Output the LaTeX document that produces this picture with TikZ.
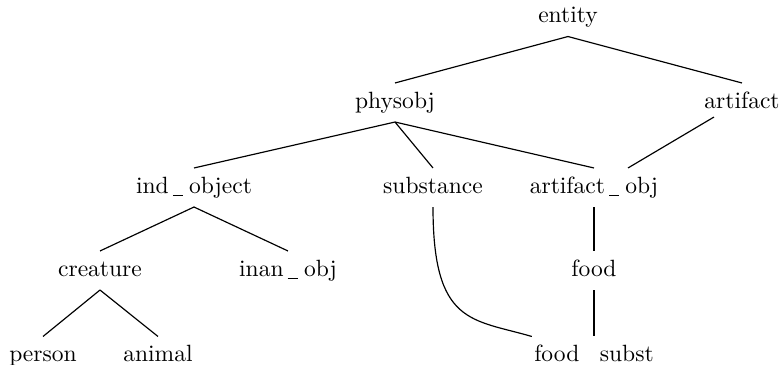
\documentclass[tikz,border=0pt]{standalone}
\usetikzlibrary{calc}
\newcommand\myus{\kern1.7pt\rule[-1.3pt]{4.3pt}{0.45pt}\kern2.7pt}
\begin{document}
\begin{tikzpicture}[x=0.4252pt,y=-0.4252pt,
  lbl/.style={inner xsep=0pt, inner ysep=3.6pt, text height=7pt, text depth=2pt},
  edge/.style={line width=0.5pt}]
\useasboundingbox (0,0) rectangle (782,365);
\node[lbl] (entity) at (568,17) {entity};
\node[lbl] (phys) at (395,102.5) {physobj};
\node[lbl] (art) at (742,102.5) {artifact};
\node[lbl] (ind) at (194,187.5) {ind\myus object};
\node[lbl] (sub) at (433,187.5) {substance};
\node[lbl] (ao) at (594,187.5) {artifact\myus obj};
\node[lbl] (cre) at (100,270.5) {creature};
\node[lbl] (inan) at (288,270.5) {inan\myus obj};
\node[lbl] (food) at (594,270.5) {food};
\node[lbl] (per) at (43,356) {person};
\node[lbl] (ani) at (158,356) {animal};
\node[lbl] (fs) at (594,356) {food\hspace{8.7pt}subst};
\coordinate (artout) at ($(art.south)+(-28,-5)$);
\coordinate (aoin) at ($(ao.north)+(34,0)$);
\coordinate (fsin) at ($(fs.north west)+(-2,0)$);
\draw[edge] (entity.south) -- (phys.north);
\draw[edge] (entity.south) -- (art.north);
\draw[edge] (phys.south) -- (ind.north);
\draw[edge] (phys.south) -- (sub.north);
\draw[edge] (phys.south) -- (ao.north);
\draw[edge] (artout) -- (aoin);
\draw[edge] (ind.south) -- (cre.north);
\draw[edge] (ind.south) -- (inan.north);
\draw[edge] (ao.south) -- (food.north);
\draw[edge] (food.south) -- (fs.north);
\draw[edge] (cre.south) -- (per.north);
\draw[edge] (cre.south) -- (ani.north);
\draw[edge] (sub.south) .. controls (433,325) and (472,319) .. (fsin);
\end{tikzpicture}
\end{document}
